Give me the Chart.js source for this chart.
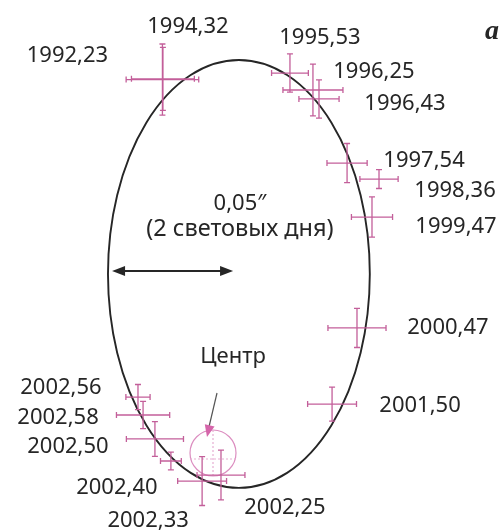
<!DOCTYPE html>
<html>
<head>
<meta charset="utf-8">
<script src="https://cdn.jsdelivr.net/npm/chart.js@4.4.0/dist/chart.umd.min.js"></script>
<style>
    html, body { margin: 0; padding: 0; background: #ffffff; }
    #wrap { width: 504px; height: 532px; }
</style>
</head>
<body>
<div id="wrap"><canvas id="orbitChart" width="504" height="532"></canvas></div>
<script>
// Эпохи наблюдений звезды S2
const epochs = ['1992,23', '1994,32', '1995,53', '1996,25', '1996,43', '1997,54', '1998,36', '1999,47',
    '2000,47', '2001,50', '2002,25', '2002,33', '2002,40', '2002,50', '2002,58', '2002,56'];
// смещение относительно центра, мсек дуги
const raOffset  = [-20.9, -20.7, 31.8, 41.3, 43.8, 55.4, 68.6, 65.7, 59.5, 49.2, 3.3, -4.5, -17.4, -24.0, -28.9, -31.0];
const decOffset = [154.3, 154.6, 157.0, 150.0, 146.3, 119.8, 113.2, 97.5, 51.7, 20.2, -9.1, -11.6, -3.3, 5.8, 15.7, 23.1];
// погрешности
const raError  = [15.0, 13.0, 7.6, 12.4, 8.3, 8.3, 7.9, 8.5, 12.0, 10.1, 9.9, 10.1, 4.3, 11.8, 11.0, 5.0];
const decError = [14.7, 13.0, 7.9, 10.7, 7.9, 8.1, 3.9, 8.3, 8.1, 7.0, 10.3, 10.1, 3.7, 7.2, 5.6, 5.2];

// орбита (эллипс): центр и полуоси, мсек дуги
const orbitCenter = [10.7, 74.0];
const orbitRadii = [54.1, 88.4];
// масштабная стрелка: 0,05" = 50 мсек
const scaleBar = { from: -41.7, length: 50, at: 75.2 };
const centreRadius = 9.5;

// сдвиг подписей от точки, px
const labelShift = [[-95, -24], [25, -52], [30, -35], [61, -18], [86, 5], [77, -2], [76, 12], [84, 10],
    [91, 0], [88, 2], [64, 33], [-54, 40], [-54, 27], [-87, 8], [-85, 3], [-77, -9]];

const PINK = '#c35f9a';
const INK = '#262626';
const FONT = '"Noto Sans", "Open Sans", sans-serif';

function arrowHead(ctx, x0, y0, x1, y1, len, half) {
    const a = Math.atan2(y1 - y0, x1 - x0);
    ctx.beginPath();
    ctx.moveTo(x1, y1);
    ctx.lineTo(x1 - len * Math.cos(a) + half * Math.sin(a), y1 - len * Math.sin(a) - half * Math.cos(a));
    ctx.lineTo(x1 - len * Math.cos(a) - half * Math.sin(a), y1 - len * Math.sin(a) + half * Math.cos(a));
    ctx.closePath();
    ctx.fill();
}

const orbitPlugin = {
    id: 'orbit',
    beforeDatasetsDraw(chart) {
        const ctx = chart.ctx;
        const x = chart.scales.x, y = chart.scales.y;
        const px = v => x.getPixelForValue(v);
        const py = v => y.getPixelForValue(v);

        // орбита
        const cx = px(orbitCenter[0]), cy = py(orbitCenter[1]);
        ctx.save();
        ctx.strokeStyle = INK;
        ctx.lineWidth = 1.9;
        ctx.beginPath();
        ctx.ellipse(cx, cy, Math.abs(px(orbitCenter[0] + orbitRadii[0]) - cx),
            Math.abs(py(orbitCenter[1] + orbitRadii[1]) - cy), 0, 0, Math.PI * 2);
        ctx.stroke();

        // центр
        const ox = px(0), oy = py(0);
        const r = Math.abs(px(centreRadius) - ox);
        ctx.strokeStyle = '#dc8ec0';
        ctx.lineWidth = 1.2;
        ctx.beginPath();
        ctx.arc(ox, oy, r, 0, Math.PI * 2);
        ctx.stroke();
        ctx.setLineDash([2, 2]);
        ctx.strokeStyle = '#e7aed2';
        ctx.beginPath();
        ctx.moveTo(ox - r, oy + 6); ctx.lineTo(ox + r, oy + 6);
        ctx.moveTo(ox, oy - r); ctx.lineTo(ox, oy + r);
        ctx.stroke();
        ctx.setLineDash([]);

        // кресты погрешностей
        ctx.strokeStyle = PINK;
        ctx.lineWidth = 1.3;
        for (let i = 0; i < epochs.length; i++) {
            const xc = px(raOffset[i]), yc = py(decOffset[i]);
            const xl = px(raOffset[i] - raError[i]), xr = px(raOffset[i] + raError[i]);
            const yt = py(decOffset[i] + decError[i]), yb = py(decOffset[i] - decError[i]);
            ctx.beginPath();
            ctx.moveTo(xl, yc); ctx.lineTo(xr, yc);
            ctx.moveTo(xl, yc - 3); ctx.lineTo(xl, yc + 3);
            ctx.moveTo(xr, yc - 3); ctx.lineTo(xr, yc + 3);
            ctx.moveTo(xc, yt); ctx.lineTo(xc, yb);
            ctx.moveTo(xc - 3, yt); ctx.lineTo(xc + 3, yt);
            ctx.moveTo(xc - 3, yb); ctx.lineTo(xc + 3, yb);
            ctx.stroke();
        }
        ctx.restore();
    },
    afterDatasetsDraw(chart) {
        const ctx = chart.ctx;
        const x = chart.scales.x, y = chart.scales.y;
        const px = v => x.getPixelForValue(v);
        const py = v => y.getPixelForValue(v);

        ctx.save();
        ctx.fillStyle = INK;
        ctx.font = '22px ' + FONT;
        ctx.textAlign = 'center';
        ctx.textBaseline = 'middle';
        for (let i = 0; i < epochs.length; i++) {
            ctx.fillText(epochs[i], px(raOffset[i]) + labelShift[i][0], py(decOffset[i]) + labelShift[i][1]);
        }

        // масштаб
        const ax0 = px(scaleBar.from), ax1 = px(scaleBar.from + scaleBar.length), ay = py(scaleBar.at);
        ctx.strokeStyle = INK;
        ctx.lineWidth = 1.8;
        ctx.beginPath();
        ctx.moveTo(ax0 + 4, ay); ctx.lineTo(ax1 - 4, ay);
        ctx.stroke();
        arrowHead(ctx, ax1, ay, ax0, ay, 13, 5);
        arrowHead(ctx, ax0, ay, ax1, ay, 13, 5);
        const mx = px(orbitCenter[0]) + 1;
        ctx.fillText('0,05\u2033', mx, ay - 67);
        ctx.font = '23.5px ' + FONT;
        ctx.fillText('(2 световых дня)', mx, ay - 42);

        // подпись центра
        ctx.font = '22px ' + FONT;
        const ox = px(0), oy = py(0);
        ctx.fillText('Центр', ox + 20, oy - 96);
        ctx.strokeStyle = '#555555';
        ctx.lineWidth = 1.2;
        ctx.beginPath();
        ctx.moveTo(ox + 4, oy - 60); ctx.lineTo(ox - 5, oy - 22);
        ctx.stroke();
        ctx.fillStyle = '#d565aa';
        arrowHead(ctx, ox + 4, oy - 60, ox - 6, oy - 16, 12, 5);

        ctx.fillStyle = INK;
        ctx.font = 'italic bold 28px "Liberation Serif", serif';
        ctx.fillText('a', chart.width - 12, 32);
        ctx.restore();
    }
};

new Chart(document.getElementById('orbitChart'), {
    type: 'scatter',
    data: {
        datasets: [{
            label: 'S2',
            data: raOffset.map((v, i) => ({ x: v, y: decOffset[i] })),
            pointRadius: 0,
            backgroundColor: PINK
        }]
    },
    options: {
        responsive: false,
        animation: false,
        layout: { padding: 0 },
        plugins: {
            legend: { display: false },
            tooltip: { enabled: false }
        },
        scales: {
            x: { type: 'linear', min: -88.02, max: 120.25, display: false },
            y: { type: 'linear', min: -32.64, max: 187.19, display: false }
        }
    },
    plugins: [orbitPlugin]
});
</script>
</body>
</html>
